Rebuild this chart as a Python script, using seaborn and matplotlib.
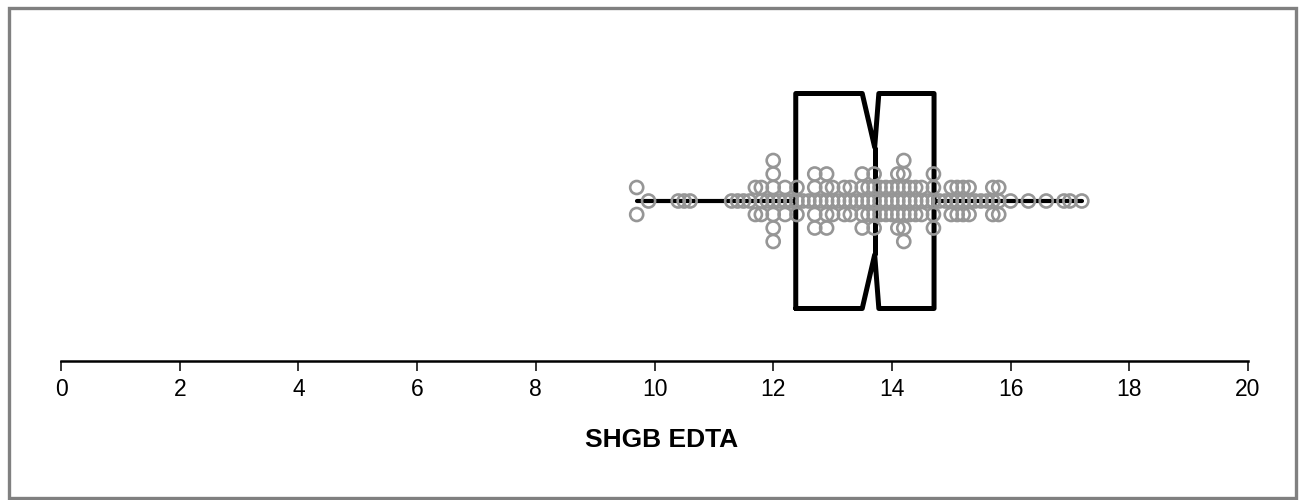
import numpy as np
import pandas as pd
import matplotlib
matplotlib.use("Agg")
import matplotlib.pyplot as plt
import seaborn as sns
from matplotlib.patches import Rectangle

# ---- data ----
values = [9.7, 9.9, 10.4, 10.5, 10.6, 11.3, 11.4, 11.5, 11.6, 11.7, 11.8, 11.9,
          12.0, 12.1, 12.2, 12.3, 12.4, 12.5, 12.6, 12.7, 12.8, 12.9, 13.0, 13.1,
          13.2, 13.3, 13.4, 13.5, 13.6, 13.7, 13.8, 13.9, 14.0, 14.1, 14.2, 14.3,
          14.4, 14.5, 14.6, 14.7, 14.8, 14.9, 15.0, 15.1, 15.2, 15.3, 15.4, 15.5,
          15.6, 15.7, 15.8, 16.0, 16.3, 16.6, 16.9, 17.0, 17.2]
counts = [2, 1, 1, 1, 1, 1, 1, 1, 1, 2, 3, 1,
          7, 1, 3, 1, 3, 1, 1, 5, 1, 5, 3, 1,
          3, 3, 1, 5, 3, 5, 3, 3, 3, 5, 7, 3,
          3, 3, 1, 5, 1, 1, 3, 3, 3, 3, 1, 1,
          1, 3, 3, 1, 1, 1, 1, 1, 1]

box_q1 = 12.38
box_median = 13.71
box_q3 = 14.71
notch_low = 13.50
notch_high = 13.78
whisker_low = 9.7
whisker_high = 17.2

x_ticks = [0, 2, 4, 6, 8, 10, 12, 14, 16, 18, 20]
x_label = "SHGB EDTA"

# ---- stacked dot positions (identical values stacked symmetrically) ----
rows = []
for v, n in zip(values, counts):
    levels = [0] if n % 2 == 1 else []
    k = 1
    while len(levels) < n:
        levels.append(k)
        if len(levels) < n:
            levels.append(-k)
        k += 1
    for lv in levels:
        rows.append({"value": v, "level": lv})
df = pd.DataFrame(rows)

# ---- figure ----
sns.set_theme(style="white")
plt.rcParams["font.family"] = ["Liberation Sans", "DejaVu Sans"]

W, H = 1301, 500
fig = plt.figure(figsize=(W / 100, H / 100), dpi=100)
fig.patch.set_facecolor("white")

ax_left, ax_right = 61, 1248
ax_bottom_px, ax_top_px = 361, 20
ax = fig.add_axes([ax_left / W, (H - ax_bottom_px) / H,
                   (ax_right - ax_left) / W, (ax_bottom_px - ax_top_px) / H])
ax.set_facecolor("white")

step = 13.5  # px per stacking level
center_px = 201
ax.set_xlim(0, 20)
ax.set_ylim(-(ax_bottom_px - center_px) / step, (center_px - ax_top_px) / step)

stats = [dict(med=box_median, q1=box_q1, q3=box_q3, whislo=whisker_low,
              whishi=whisker_high, cilo=notch_low, cihi=notch_high, fliers=[])]
ax.bxp(stats, positions=[0], widths=215 / step, orientation="horizontal",
       shownotches=True, showcaps=False, showfliers=False, manage_ticks=False,
       boxprops=dict(color="black", linewidth=3.6, solid_joinstyle="round"),
       whiskerprops=dict(color="black", linewidth=3.0),
       medianprops=dict(color="black", linewidth=3.6))

sns.scatterplot(data=df, x="value", y="level", ax=ax, marker="o",
                facecolor="none", edgecolor="#969696", s=88, linewidth=1.9,
                legend=False, zorder=3)

for side in ["left", "top", "right"]:
    ax.spines[side].set_visible(False)
ax.spines["bottom"].set_color("black")
ax.spines["bottom"].set_linewidth(1.8)
ax.set_yticks([])
ax.set_ylabel("")
ax.set_xticks(x_ticks)
ax.set_xticklabels([str(t) for t in x_ticks])
ax.tick_params(axis="x", direction="out", length=7, width=1.1, color="black",
               pad=5, labelsize=16.5, labelcolor="black", bottom=True)
ax.set_xlabel(x_label, fontsize=19, fontweight="bold", color="black")
ax.xaxis.label.set_va("center")
ax.xaxis.set_label_coords((662 - ax_left) / (ax_right - ax_left),
                          -(440 - ax_bottom_px) / (ax_bottom_px - ax_top_px))

fig.patches.append(Rectangle((8.5 / W, 2 / H), (1296 - 8.5) / W, (H - 7.5 - 2) / H,
                             transform=fig.transFigure, fill=False,
                             edgecolor="#808080", linewidth=2.4))

fig.savefig("out.png", dpi=100, facecolor="white")
